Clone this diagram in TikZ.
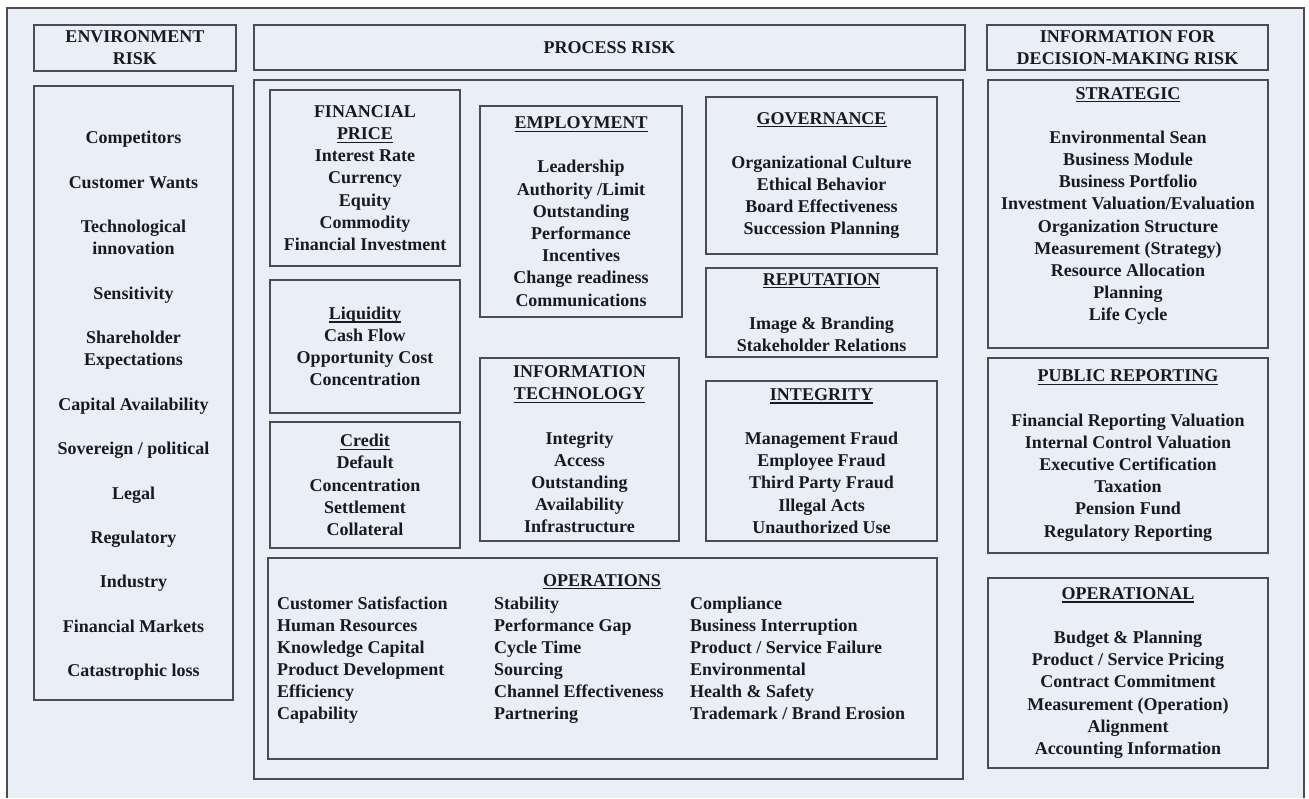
\documentclass[tikz,border=0pt]{standalone}
\usepackage{fontspec}
\setmainfont{Liberation Serif}
\usepackage{xcolor}
\usetikzlibrary{positioning}

\definecolor{paper}{RGB}{233,238,247}
\definecolor{frameline}{RGB}{74,76,82}
\definecolor{ink}{RGB}{26,26,30}
\newsavebox{\headbox}
\newcommand{\boxhead}[1]{\sbox{\headbox}{#1}\rlap{\usebox{\headbox}}\rule[-3.2pt]{\wd\headbox}{1.1pt}}

\begin{document}
\begin{tikzpicture}[
        x=1pt, y=-1pt,
        % Define styles for the risk boxes
        box/.style={
            draw=frameline,
            rectangle,
            line width=1.6pt,
            inner sep=0pt,
            text=ink,
            align=center,
            font=\bfseries\fontsize{18}{22.2}\selectfont
        },
        listtext/.style={
            text=ink,
            align=center,
            inner sep=0pt,
            font=\bfseries\fontsize{18}{22.2}\selectfont
        },
        item/.style={
            listtext,
            anchor=base west
        }
    ]

    % Page and outer frame
    \useasboundingbox (0,0) rectangle (1309,798);
    \fill[paper] (7,8) rectangle (1304,798);
    \draw[frameline, line width=1.8pt] (7,798) -- (7,8) -- (1304,8) -- (1304,798);

    % Column headers
    \node[box, minimum width=202, minimum height=46] (envhead) at (135,48) {ENVIRONMENT\\RISK};
    \node[box, minimum width=711, minimum height=45] (prochead) at (609.5,47.5) {PROCESS RISK};
    \node[box, minimum width=281, minimum height=45] (infohead) at (1127.5,47.5) {INFORMATION FOR\\DECISION-MAKING RISK};

    % Environment risk list
    \node[box, minimum width=199, minimum height=614] (envbox) at (133.5,393) {};
    \node[listtext] (envlist) at ([yshift=-13pt]envbox.center) {Competitors\\[22.2pt]
        Customer Wants\\[22.2pt]
        Technological\\innovation\\[22.2pt]
        Sensitivity\\[22.2pt]
        Shareholder\\Expectations\\[22.2pt]
        Capital Availability\\[22.2pt]
        Sovereign / political\\[22.2pt]
        Legal\\[22.2pt]
        Regulatory\\[22.2pt]
        Industry\\[22.2pt]
        Financial Markets\\[22.2pt]
        Catastrophic loss};

    % Process risk frame
    \node[box, minimum width=709, minimum height=699] (procbox) at (608.5,429.5) {};

    % Financial column
    \node[box, minimum width=190, minimum height=176] (finprice) at (365,178) {FINANCIAL\\\boxhead{PRICE}\\Interest Rate\\Currency\\Equity\\Commodity\\Financial Investment};
    \node[box, minimum width=190, minimum height=133] (liquidity) at (365,346.5) {\boxhead{Liquidity}\\Cash Flow\\Opportunity Cost\\Concentration};
    \node[box, minimum width=190, minimum height=126] (credit) at (365,485) {\boxhead{Credit}\\Default\\Concentration\\Settlement\\Collateral};

    % Middle column
    \node[box, minimum width=202, minimum height=211] (employment) at (581,211.5) {\boxhead{EMPLOYMENT}\\[22pt]Leadership\\Authority /Limit\\Outstanding\\Performance\\Incentives\\Change readiness\\Communications};
    \node[box, minimum width=199, minimum height=183] (infotech) at (579.5,449.5) {INFORMATION\\\boxhead{TECHNOLOGY}\\[22pt]Integrity\\Access\\Outstanding\\Availability\\Infrastructure};

    % Right column of process risk
    \node[box, minimum width=231, minimum height=157] (governance) at (821.5,175.5) {\boxhead{GOVERNANCE}\\[22pt]Organizational Culture\\Ethical Behavior\\Board Effectiveness\\Succession Planning};
    \node[box, minimum width=231, minimum height=89] (reputation) at (821.5,312.5) {\boxhead{REPUTATION}\\[22pt]Image \& Branding\\Stakeholder Relations};
    \node[box, minimum width=231, minimum height=160] (integrity) at (821.5,461) {\boxhead{INTEGRITY}\\[22pt]Management Fraud\\Employee Fraud\\Third Party Fraud\\Illegal Acts\\Unauthorized Use};

    % Operations
    \node[box, minimum width=669, minimum height=201] (operations) at (602.5,658.5) {};
    \node[listtext, anchor=base] (opstitle) at (602,586) {\boxhead{OPERATIONS}};
    \foreach \txt [count=\r] in {Customer Satisfaction, Human Resources, Knowledge Capital, Product Development, Efficiency, Capability} {
        \node[item] (opsa\r) at (277,587+22*\r) {\txt};
    }
    \foreach \txt [count=\r] in {Stability, Performance Gap, Cycle Time, Sourcing, Channel Effectiveness, Partnering} {
        \node[item] (opsb\r) at (494,587+22*\r) {\txt};
    }
    \foreach \txt [count=\r] in {Compliance, Business Interruption, Product / Service Failure, Environmental, Health \& Safety, Trademark / Brand Erosion} {
        \node[item] (opsc\r) at (690,587+22*\r) {\txt};
    }

    % Information for decision-making risk
    \node[box, minimum width=280, minimum height=268] (strategic) at (1128,214) {};
    \node[listtext] (stratlist) at ([yshift=8pt]strategic.center) {\boxhead{STRATEGIC}\\[22pt]Environmental Sean\\Business Module\\Business Portfolio\\Investment Valuation/Evaluation\\Organization Structure\\Measurement (Strategy)\\Resource Allocation\\Planning\\Life Cycle};
    \node[box, minimum width=280, minimum height=195] (reporting) at (1128,455.5) {\boxhead{PUBLIC REPORTING}\\[22pt]Financial Reporting Valuation\\Internal Control Valuation\\Executive Certification\\Taxation\\Pension Fund\\Regulatory Reporting};
    \node[box, minimum width=280, minimum height=190] (operational) at (1128,673) {\boxhead{OPERATIONAL}\\[22pt]Budget \& Planning\\Product / Service Pricing\\Contract Commitment\\Measurement (Operation)\\Alignment\\Accounting Information};

\end{tikzpicture}
\end{document}
